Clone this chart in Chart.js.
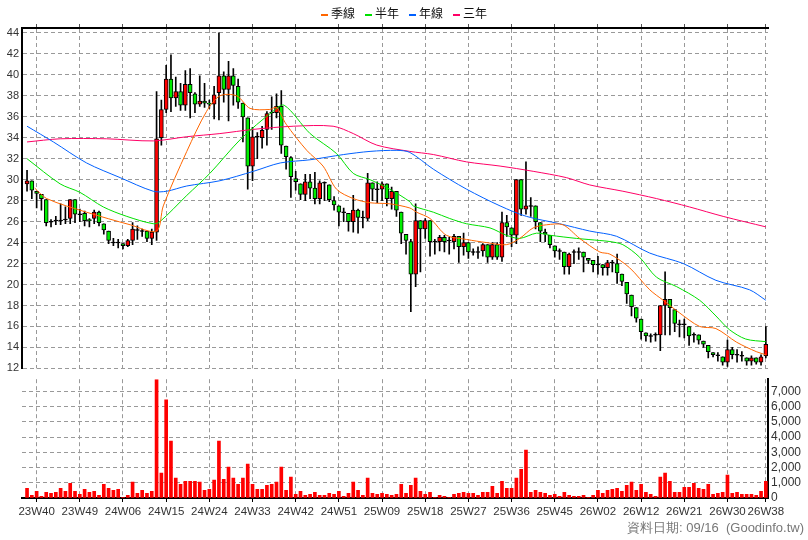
<!DOCTYPE html>
<html>
<head>
<meta charset="utf-8">
<script src="https://cdn.jsdelivr.net/npm/chart.js"></script>
<style>
  body { margin: 0; background: #fff; font-family: "Liberation Sans", Arial, sans-serif; }
  #wrap { position: relative; width: 808px; height: 540px; }
  #priceBox { position: absolute; left: 0; top: 0; width: 808px; height: 378px; }
  #volBox { position: absolute; left: 0; top: 369px; width: 808px; height: 171px; }
  #legend { position: absolute; top: 5px; left: 0; width: 808px; text-align: center; font-size: 12px; color: #111; font-family: "Noto Sans CJK TC", sans-serif; line-height: 16px; }
  #legend span { margin: 0 5px; }
  #legend i { display: inline-block; width: 7px; border-top: 2px solid; vertical-align: middle; margin-right: 3px; }
  #footer { position: absolute; right: 4px; top: 519px; font-size: 13px; color: #777; }
</style>
</head>
<body>
<div id="wrap">
  <div id="priceBox"><canvas id="priceChart"></canvas></div>
  <div id="volBox"><canvas id="volChart"></canvas></div>
  <div id="legend"></div>
  <div id="footer">資料日期: 09/16&nbsp; (Goodinfo.tw)</div>
</div>
<script>
// weekly candles, index 0..154
const opens = [
  29.6,29.9,28.9,28.6,28.1,26,26.1,26.1,26.2,26.3,
  28.1,26.7,26.8,26.2,26.3,26.9,25.8,25.1,24.0,24.0,
  23.9,23.7,24.2,25.2,25.1,25.1,24.4,25.0,34.0,36.7,
  39.6,37.8,38.4,37.1,39.1,38.2,37.2,37.5,37.3,37.2,
  38.3,39.9,38.6,39.9,38.9,37.3,35.9,31.3,34.1,34.0,
  34.8,36.4,36.4,37.0,33.2,32.1,30.1,29.6,28.6,29.8,
  29.2,28.2,29.7,29.5,28.0,27.5,26.9,26.8,26.0,27.1,
  26.4,26.3,29.7,29.1,29.1,29.6,28.2,28.9,26.9,24.8,
  24.1,21.0,26.1,25.3,26.1,24.1,24.1,24.5,24.2,24.1,
  24.6,23.6,24.0,23.1,23.1,23.2,23.8,22.6,23.8,22.6,
  25.9,25.4,24.7,30.0,27.2,27.5,27.5,25.9,25.0,24.7,
  23.7,23.2,23.1,21.7,23.1,23.1,23.1,22.5,22.3,21.9,
  21.9,21.6,22.1,22.0,21.0,20.2,19.0,17.8,16.7,15.4,
  15.1,15.2,15.2,18.0,18.6,17.6,16.2,16.2,16.0,15.2,
  15.2,14.6,14.2,13.5,13.25,13.1,12.6,13.8,13.3,13.2,
  13.0,12.7,13.0,12.6,13.2
];
const closes = [
  29.9,29.0,28.7,28.2,25.9,26,26.1,26.1,26.2,28.1,
  26.7,26.7,26.1,26.1,26.9,25.9,25.2,24.2,24.0,24.0,
  23.7,24.2,25.3,25.2,25.1,24.4,25.0,33.9,36.7,39.6,
  37.8,38.4,37.1,39.1,38.3,37.2,37.5,37.3,37.2,38.1,
  39.9,38.6,39.9,39.0,37.4,36.0,31.3,34.1,34.1,34.7,
  36.3,36.4,37.0,33.3,32.2,30.3,29.8,28.6,29.8,29.2,
  28.2,29.7,29.7,28.1,27.6,26.9,26.9,26.0,27.1,26.4,
  26.4,29.7,29.1,29.1,29.6,28.2,28.9,27.1,24.9,24.2,
  21.0,26.1,25.3,26.1,24.1,24.1,24.5,24.1,24.2,24.6,
  23.6,24.0,23.1,23.1,23.1,23.8,22.6,23.8,22.6,25.9,
  25.5,24.7,30.0,27.2,27.5,27.5,26.0,25.1,24.8,23.8,
  23.2,23.2,21.7,22.9,23.1,23.1,22.6,22.3,21.9,21.9,
  21.6,22.1,22.1,21.1,20.3,19.1,17.9,16.8,15.5,15.1,
  15.1,15.2,18.0,18.6,17.8,16.3,16.2,16.2,15.1,15.2,
  14.7,14.3,13.6,13.3,13.25,12.6,13.8,13.3,13.3,13.2,
  12.7,13.0,12.6,13.1,14.3
];
const highs = [
  30.9,29.9,28.9,28.6,28.1,26.2,26.5,27.7,27.4,28.1,
  28.1,27.2,27.0,26.3,27.1,27.0,25.8,25.1,24.4,24.3,
  23.9,24.3,25.9,25.6,25.3,25.1,25.3,38.4,37.6,40.9,
  41.9,39.8,39.2,40.4,40.6,38.3,39.9,39.2,37.6,38.9,
  44.0,40.3,41.3,40.6,39.6,37.3,35.9,35.0,34.5,35.1,
  36.5,37.9,38.2,38.5,33.2,32.2,30.8,29.6,30.5,30.5,
  30.7,29.9,29.8,29.5,28.4,27.5,27.3,26.8,28.5,27.2,
  27.0,30.6,29.7,29.8,29.8,29.6,29.3,28.9,26.9,24.8,
  24.3,27.7,26.1,26.3,26.1,24.3,24.7,24.7,24.5,24.8,
  24.6,24.9,24.0,23.4,23.6,23.9,23.8,24.0,24.0,26.9,
  26.6,25.4,30.0,30.0,31.7,28.3,27.5,25.9,25.3,24.7,
  23.7,23.4,23.1,23.0,23.3,23.5,23.1,22.5,22.3,22.7,
  21.9,22.3,22.3,22.9,21.0,20.2,19.0,17.8,16.7,15.4,
  15.3,15.4,18.0,21.2,18.6,17.6,16.6,16.7,16.0,15.4,
  15.2,14.6,14.2,13.5,13.5,13.1,14.7,14.0,13.8,13.6,
  13.0,13.2,13.0,13.3,16.0
];
const lows = [
  28.9,28.2,27.3,27.1,25.6,25.5,25.7,25.7,25.8,25.8,
  25.9,26.0,25.6,25.5,25.8,25.6,24.8,23.9,23.7,23.5,
  23.4,23.6,23.8,24.3,24.6,24.1,23.8,24.2,33.3,36.4,
  36.5,37.0,36.6,36.6,35.9,36.4,37.0,36.9,36.8,35.8,
  35.7,37.4,35.6,37.1,36.8,33.6,29.1,29.9,32.0,33.0,
  33.3,34.8,35.9,32.5,31.0,28.3,29.0,28.1,28.0,28.2,
  27.7,27.7,28.0,27.9,27.1,25.6,26.0,25.1,25.0,24.9,
  25.4,26.1,28.0,27.8,28.0,27.5,27.2,26.5,23.9,22.9,
  17.4,19.8,21.2,24.4,22.7,22.9,23.2,23.1,22.9,23.4,
  22.1,22.8,22.5,22.8,22.5,22.7,22.1,22.4,22.4,22.2,
  24.6,23.6,23.9,26.6,26.7,26.5,25.3,24.1,24.1,23.5,
  22.6,22.4,21.0,21.0,22.0,22.4,21.2,22.0,21.2,21.0,
  20.9,20.9,21.2,20.1,19.9,18.2,17.0,16.4,14.8,14.6,
  14.5,14.6,13.7,15.2,15.2,15.5,15.0,14.9,14.2,14.5,
  14.3,14.0,13.0,13.1,12.7,12.3,12.2,12.9,12.6,12.7,
  12.3,12.3,12.4,12.3,13.0
];
// volume (張)
const volumes = [
  640,180,440,110,370,310,370,640,440,970,
  440,240,570,370,440,180,900,640,510,570,
  40,180,1040,310,510,310,440,7780,1630,6450,
  3740,1300,900,1100,1100,1100,1040,510,570,1170,
  3740,1230,2030,1300,900,1300,2220,900,570,570,
  840,900,1040,2030,510,1370,240,440,180,240,
  370,180,180,310,240,440,110,310,1040,510,
  180,1300,310,240,310,240,180,240,900,310,
  840,1300,440,240,370,40,180,110,40,240,
  310,370,310,310,180,370,370,770,310,1100,
  640,640,1300,1890,3150,370,510,370,310,180,
  240,110,370,180,110,110,180,40,180,510,
  310,510,570,640,440,840,1040,510,900,370,
  240,110,1370,1630,1100,370,370,700,700,970,
  640,570,900,240,310,370,1500,310,370,240,
  240,240,180,440,1100
];
// moving averages as [week index, value]
const maQuarter = [[1.6,29.2],[4.1,28.2],[12.4,26.9],[21.5,25.7],[27,25.1],[28.4,27.5],[33.3,32.7],[37.4,36.5],[40.2,38],
  [43.7,38.0],[46.5,36.8],[50.6,36.7],[52,36.9],[54,35.3],[58.3,32.8],[61.7,31.3],[64.5,29.1],[68,28.2],[71.5,27.8],[75.6,27.7],[79.8,27.3],
  [81.2,26.9],[84,26.3],[87.4,24.7],[91.6,24.3],[95.8,24.0],[99.9,23.8],[102.7,24.4],[105.5,25.4],[108.3,25.7],[111.7,25.7],[115.2,24.4],[119.4,23.1],
  [121.5,22.9],[125.6,21.6],[129.8,19.5],[132.6,18.5],[136,17.3],[140.2,16.0],[143.6,15.8],[147.9,14.5],[152,13.6],[154,13.3]];
const maHalf = [[0,32.0],[6.9,29.6],[11,28.8],[15.9,27.4],[20.8,26.5],[26.3,25.8],[27.7,26.0],[33.3,28.5],[38.1,30.6],[44.6,33.9],[51.2,36.5],[53.6,37.1],
  [59,34.4],[64.5,32.5],[68,30.6],[71.5,30.0],[75.6,29.1],[79.8,27.9],[80.5,27.5],[84.7,26.9],[88.1,26.3],[91.6,25.8],[96.5,25.4],[99.9,24.7],[102.7,24.4],
  [106.2,24.9],[109,24.7],[114.5,24.4],[119.4,24.2],[121.5,24.1],[124.2,23.8],[127.7,22.6],[131.2,20.7],[135.4,19.8],[140.2,18.5],[143.6,17.0],[146.4,15.7],[149.8,14.8],[154,14.55]];
const maYear = [[0,35.1],[5.5,33.6],[12.4,31.6],[19.4,30.2],[26.3,28.9],[29.1,28.9],[33.3,29.4],[40.2,29.9],[47.2,30.8],[52.8,31.6],[59,31.9],[66,32.4],
  [71.5,32.7],[77.1,32.8],[79.8,32.6],[84.7,31.0],[91.6,29.1],[98.6,27.5],[104.1,26.5],[111,25.8],[117.3,25.1],[122.9,24.6],[129.8,23.0],[136.8,22.0],[143.6,20.4],[150.6,19.5],[154,18.5]];
const maThree = [[0,33.6],[6.9,33.9],[16.6,33.9],[26.3,33.7],[33.3,34.1],[40.2,34.4],[47.2,34.8],[55.5,35.1],[63.8,35.1],[68,34.4],[72.9,33.3],[79.8,32.7],
  [84.7,32.4],[91.6,31.7],[98.6,31.3],[105.5,30.8],[112.4,30.2],[117.3,29.5],[124.2,28.9],[131.2,28.2],[138.1,27.4],[145.1,26.5],[154,25.5]];

const maNames = ['季線', '半年', '年線', '三年'];
const maColors = ['#ff6600', '#00e000', '#0060ff', '#ff0066'];
const tickPos = [2, 11, 20, 29, 38, 47, 56, 65, 74, 83, 92, 101, 110, 119, 128, 137, 146, 154];
const tickLabels = ['23W40','23W49','24W06','24W15','24W24','24W33','24W42','24W51','25W09','25W18','25W27','25W36','25W45','26W02','26W12','26W21','26W30','26W38'];
const volTicks = [0, 1000, 2000, 3000, 4000, 5000, 6000, 7000];

const gridColor = '#999';
const xMin = -1.05, xMax = 154.45;

const legendEl = document.getElementById('legend');
maNames.forEach((n, k) => {
  legendEl.innerHTML += '<span><i style="border-color:' + maColors[k] + '"></i>' + n + '</span>';
});

const wicks = highs.map((h, i) => ({ x: i, y: [lows[i], h] }));
const bodies = opens.map((o, i) => {
  const c = closes[i];
  const lo = Math.min(o, c), hi = Math.max(o, c);
  return { x: i, y: hi - lo < 0.06 ? [c - 0.04, c + 0.04] : [lo, hi] };
});
const bodyColors = opens.map((o, i) => closes[i] > o ? '#ff0000' : (closes[i] < o ? '#00ee00' : '#000'));

const maSets = [maQuarter, maHalf, maYear, maThree].map((arr, k) => ({
  type: 'line',
  label: maNames[k],
  data: arr.map(p => ({ x: p[0], y: p[1] })),
  borderColor: maColors[k],
  borderWidth: 1,
  pointRadius: 0,
  tension: 0.3,
  order: 0
}));

const xTicksFixed = function(axis) {
  axis.ticks = tickPos.map(v => ({ value: v }));
};

new Chart(document.getElementById('priceChart'), {
  data: {
    datasets: [
      ...maSets,
      { type: 'bar', data: wicks, backgroundColor: '#000', barThickness: 1, grouped: false, order: 2 },
      { type: 'bar', data: bodies, backgroundColor: bodyColors, borderColor: '#000', borderWidth: 1,
        borderSkipped: false, barThickness: 4, grouped: false, order: 1 }
    ]
  },
  options: {
    responsive: true,
    maintainAspectRatio: false,
    animation: false,
    layout: { padding: { left: 0, right: 40, top: 24, bottom: 0 } },
    plugins: { legend: { display: false }, tooltip: { enabled: false } },
    scales: {
      x: {
        type: 'linear', position: 'top', min: xMin, max: xMax, offset: false,
        afterBuildTicks: xTicksFixed,
        afterFit(axis) { axis.height = 4; },
        ticks: { display: false },
        grid: { color: gridColor, tickLength: 4, tickColor: '#555', offset: false },
        border: { color: '#000', width: 2, dash: [4, 3] }
      },
      y: {
        min: 12, max: 44.47,
        afterFit(axis) { axis.width = 22; },
        ticks: { stepSize: 2, includeBounds: false, padding: 3, color: '#333', font: { size: 11, family: 'Liberation Sans' } },
        grid: { color: gridColor, tickLength: 0 },
        border: { color: '#000', width: 2, dash: [4, 3] }
      }
    }
  }
});

new Chart(document.getElementById('volChart'), {
  type: 'bar',
  data: {
    datasets: [{
      data: volumes.map((v, i) => ({ x: i, y: v })),
      backgroundColor: '#ff0000',
      barThickness: 3
    }]
  },
  options: {
    responsive: true,
    maintainAspectRatio: false,
    animation: false,
    layout: { padding: { left: 22, right: 0, top: 0, bottom: 0 } },
    plugins: { legend: { display: false }, tooltip: { enabled: false } },
    scales: {
      x: {
        type: 'linear', min: xMin, max: xMax, offset: false,
        afterBuildTicks: xTicksFixed,
        afterFit(axis) { axis.height = 42; },
        ticks: {
          color: '#333', padding: 3, maxRotation: 0, autoSkip: false,
          font: { size: 11.5, family: 'Liberation Sans' },
          callback: v => tickLabels[tickPos.indexOf(v)]
        },
        grid: { color: gridColor, tickLength: 4, tickColor: '#000', offset: false },
        border: { color: '#000', width: 2, dash: [4, 3] }
      },
      y: {
        position: 'right',
        min: 0, max: 7800,
        afterBuildTicks(axis) { axis.ticks = volTicks.map(v => ({ value: v })); },
        afterFit(axis) { axis.width = 40; },
        ticks: {
          padding: 3, color: '#333', autoSkip: false,
          font: { size: 12, family: 'Liberation Sans' },
          callback: v => v.toLocaleString('en-US')
        },
        grid: { color: gridColor, tickLength: 0 },
        border: { color: '#000', width: 2, dash: [4, 3] }
      }
    }
  }
});
</script>
</body>
</html>
